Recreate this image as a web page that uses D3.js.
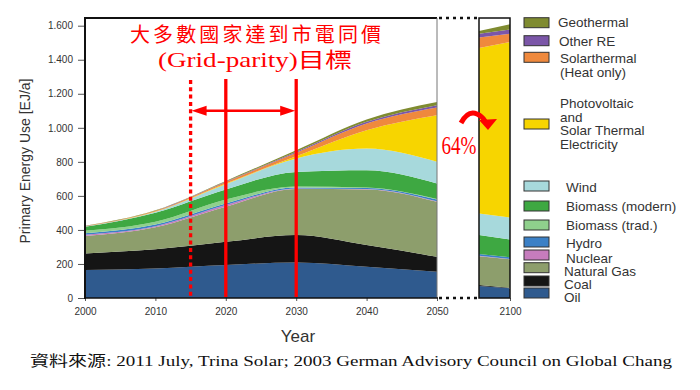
<!DOCTYPE html>
<html>
<head>
<meta charset="utf-8">
<script src="https://cdn.jsdelivr.net/npm/d3@7"></script>
<style>
  body { margin: 0; background: #fff; }
  svg { display: block; }
  .axis text { font-family: "Liberation Sans", Arial, sans-serif; font-size: 10px; fill: #333; }
  .axis line { stroke: #555; }
  .axis path { display: none; }
  .legend text { font-family: "Liberation Sans", Arial, sans-serif; font-size: 13.5px; fill: #333; }
</style>
</head>
<body>
<svg width="700" height="390"></svg>
<script>
// years: 2000-2050 main chart, last two (2090, 2100) for the 2100 slice
const years = [2000, 2010, 2020, 2030, 2040, 2050, 2090, 2100];

const oil        = [164, 174, 194, 209, 184, 154, 70, 57];
const coal       = [98, 112, 136, 161, 127, 88, 6, 3];
const gas        = [102, 129, 206, 270, 327, 323, 170, 167];
const nuclear    = [8, 7, 10, 4, 3, 3, 2, 2];
const hydro      = [8, 10, 10, 6, 6, 11, 10, 10];
const bioTrad    = [15, 16, 23, 5, 2, 2, 0, 0];
const bioModern  = [23, 53, 59, 86, 102, 92, 112, 105];
const wind       = [2, 6, 31, 79, 127, 127, 127, 129];
const pvSolar    = [0, 1, 4, 13, 108, 274, 972, 1031];
const solarHeat  = [2, 4, 9, 20, 39, 45, 61, 49];
const otherRE    = [1, 1, 2, 6, 10, 14, 23, 24];
const geothermal = [1, 2, 4, 9, 14, 19, 16, 31];

const keys = ['Oil', 'Coal', 'Natural Gas', 'Nuclear', 'Hydro', 'Biomass (trad.)',
  'Biomass (modern)', 'Wind', 'PV', 'Solarthermal', 'Other RE', 'Geothermal'];
const series = [oil, coal, gas, nuclear, hydro, bioTrad, bioModern, wind,
  pvSolar, solarHeat, otherRE, geothermal];

const colors = ['#2f5a8e', '#151515', '#8d9e6c', '#c67cbd', '#3b80c6', '#8fd08c',
  '#3ea842', '#a7d9dc', '#f7d500', '#ef893d', '#7b56a8', '#7f8b30'];

// legend, top to bottom
const legendLabels = [
  ['Geothermal'], ['Other RE'], ['Solarthermal', '(Heat only)'],
  ['Photovoltaic', 'and', 'Solar Thermal', 'Electricity'],
  ['Wind'], ['Biomass (modern)'], ['Biomass (trad.)'], ['Hydro'],
  ['Nuclear'], ['Natural Gas'], ['Coal'], ['Oil']
];
const yTicks = [0, 200, 400, 600, 800, 1000, 1200, 1400, 1600];
const xTicks = [2000, 2010, 2020, 2030, 2040, 2050];
const parityLines = [2020, 2030];
const parityStart = 2015;

// legend layout (px)
const legSwatchY = [22.7, 40.7, 57.3, 124, 186, 206, 225, 242, 255, 267.7, 281, 293];
const legTextY = [27.3, 45.5, 63, 108, 191.5, 211, 230, 247.5, 262.5, 275.5, 289, 302];
const legTextX = [558, 559, 560, 560, 566, 566, 566, 566, 566, 564, 564, 564];

let svg = d3.select('svg');

let rows = years.map((yr, i) => {
  let r = {year: yr};
  keys.forEach((k, j) => r[k] = series[j][i]);
  return r;
});
let stacked = d3.stack().keys(keys)(rows);

let x = d3.scaleLinear().domain([2000, 2050]).range([85, 437]);
let x2 = d3.scaleLinear().domain([2090, 2100]).range([479, 510]);
let y = d3.scaleLinear().domain([0, 1600]).range([298, 25.7]);

let area = d3.area()
  .x(d => x(d.data.year))
  .y0(d => y(d[0]))
  .y1(d => y(d[1]))
  .curve(d3.curveMonotoneX);

let area2 = d3.area()
  .x(d => x2(d.data.year))
  .y0(d => y(d[0]))
  .y1(d => y(d[1]));

// main areas
svg.append('g')
  .selectAll('path')
  .data(stacked)
  .enter()
  .append('path')
  .attr('fill', (d, i) => colors[i])
  .attr('d', d => area(d.slice(0, 6)));

// 2100 slice
svg.append('g')
  .selectAll('path')
  .data(stacked)
  .enter()
  .append('path')
  .attr('fill', (d, i) => colors[i])
  .attr('d', d => area2(d.slice(6)));

// axes
svg.append('g')
  .attr('class', 'axis')
  .attr('transform', 'translate(85,0)')
  .call(d3.axisLeft(y).tickValues(yTicks).tickSizeInner(7).tickSizeOuter(0).tickPadding(5)
    .tickFormat(d => d3.format(',')(d).replace(',', '.')));

svg.append('g')
  .attr('class', 'axis')
  .attr('transform', 'translate(0,298)')
  .call(d3.axisBottom(x).tickValues(xTicks).tickSizeInner(3).tickSizeOuter(0).tickPadding(7)
    .tickFormat(d3.format('d')));

svg.append('g')
  .attr('class', 'axis')
  .attr('transform', 'translate(0,298)')
  .call(d3.axisBottom(x2).tickValues([2100]).tickSizeInner(3).tickSizeOuter(0).tickPadding(7)
    .tickFormat(d3.format('d')));

// frame
svg.append('line').attr('x1', 85).attr('x2', 437).attr('y1', 18).attr('y2', 18)
  .attr('stroke', '#111').attr('stroke-width', 2);
svg.append('line').attr('x1', 85).attr('x2', 85).attr('y1', 17).attr('y2', 299)
  .attr('stroke', '#111').attr('stroke-width', 2);
svg.append('line').attr('x1', 437).attr('x2', 437).attr('y1', 18).attr('y2', 298)
  .attr('stroke', '#777').attr('stroke-width', 1);
svg.append('line').attr('x1', 84).attr('x2', 438).attr('y1', 298).attr('y2', 298)
  .attr('stroke', '#111').attr('stroke-width', 1.5);

svg.append('rect').attr('x', 479).attr('y', 18).attr('width', 31).attr('height', 280)
  .attr('fill', 'none').attr('stroke', '#111').attr('stroke-width', 1.5);

[18, 298].forEach(v => {
  svg.append('line').attr('x1', 439).attr('x2', 479).attr('y1', v).attr('y2', v)
    .attr('stroke', '#111').attr('stroke-width', 2.5).attr('stroke-dasharray', '3,4');
});

// axis titles
svg.append('text')
  .attr('transform', 'translate(30,161) rotate(-90)')
  .attr('text-anchor', 'middle')
  .style('font-family', '"Liberation Sans", Arial, sans-serif')
  .style('font-size', '14px')
  .style('fill', '#333')
  .text('Primary Energy Use [EJ/a]');

svg.append('text')
  .attr('x', 298).attr('y', 342)
  .attr('text-anchor', 'middle')
  .style('font-family', '"Liberation Sans", Arial, sans-serif')
  .style('font-size', '17px')
  .style('fill', '#333')
  .text('Year');

// legend
let leg = svg.append('g').attr('class', 'legend');
legendLabels.forEach((lines, i) => {
  leg.append('rect')
    .attr('x', 524).attr('y', legSwatchY[i] - 5)
    .attr('width', 25).attr('height', 10)
    .attr('fill', colors[keys.length - 1 - i])
    .attr('stroke', '#333').attr('stroke-width', 1);
  let t = leg.append('text').attr('x', legTextX[i]).attr('y', legTextY[i]);
  lines.forEach((l, j) => {
    t.append('tspan').attr('x', legTextX[i]).attr('dy', j === 0 ? 0 : 13.7).text(l);
  });
});

// red annotations
let red = '#ff0000';
svg.append('text')
  .attr('x', 130).attr('y', 42)
  .attr('textLength', 251).attr('lengthAdjust', 'spacing')
  .style('font-family', '"Noto Sans CJK TC", sans-serif')
  .style('font-size', '20px')
  .style('fill', red)
  .text('大多數國家達到市電同價');

svg.append('text')
  .attr('x', 158).attr('y', 67)
  .attr('textLength', 194).attr('lengthAdjust', 'spacingAndGlyphs')
  .style('font-family', '"Liberation Serif", "Noto Sans CJK TC", serif')
  .style('font-size', '21px')
  .style('fill', red)
  .text('(Grid-parity)目標');

svg.append('line')
  .attr('x1', x(parityStart)).attr('x2', x(parityStart))
  .attr('y1', 80).attr('y2', 297)
  .attr('stroke', red).attr('stroke-width', 3.3).attr('stroke-dasharray', '4,3.3');

svg.selectAll('.parity')
  .data(parityLines)
  .enter()
  .append('line')
  .attr('class', 'parity')
  .attr('x1', d => x(d)).attr('x2', d => x(d))
  .attr('y1', 79).attr('y2', 297)
  .attr('stroke', red).attr('stroke-width', 3.3);

let ay = 110.7;
let ax1 = x(parityStart) + 1, ax2 = x(parityLines[1]) - 1;
svg.append('line').attr('x1', ax1 + 10).attr('x2', ax2 - 10).attr('y1', ay).attr('y2', ay)
  .attr('stroke', red).attr('stroke-width', 2.5);
svg.append('path')
  .attr('d', `M${ax1},${ay} l15,-5 l0,10 Z M${ax2},${ay} l-15,-5 l0,10 Z`)
  .attr('fill', red);

// curved arrow + share label
svg.append('path')
  .attr('d', 'M461,123 Q468,110 477,114 Q482,116 485,121')
  .attr('fill', 'none').attr('stroke', red).attr('stroke-width', 5);
svg.append('path')
  .attr('d', 'M479,120 L497,119 L488,130 Z')
  .attr('fill', red);

svg.append('text')
  .attr('x', 441.5).attr('y', 154)
  .attr('textLength', 35).attr('lengthAdjust', 'spacingAndGlyphs')
  .style('font-family', '"Liberation Serif", serif')
  .style('font-size', '26px')
  .style('fill', red)
  .text('64%');

// source
svg.append('text')
  .attr('x', 30).attr('y', 366)
  .attr('textLength', 642).attr('lengthAdjust', 'spacingAndGlyphs')
  .style('font-family', '"Liberation Serif", "Noto Sans CJK TC", serif')
  .style('font-size', '15px')
  .style('fill', '#111')
  .text('資料來源: 2011 July, Trina Solar; 2003 German Advisory Council on Global Chang');
</script>
</body>
</html>
